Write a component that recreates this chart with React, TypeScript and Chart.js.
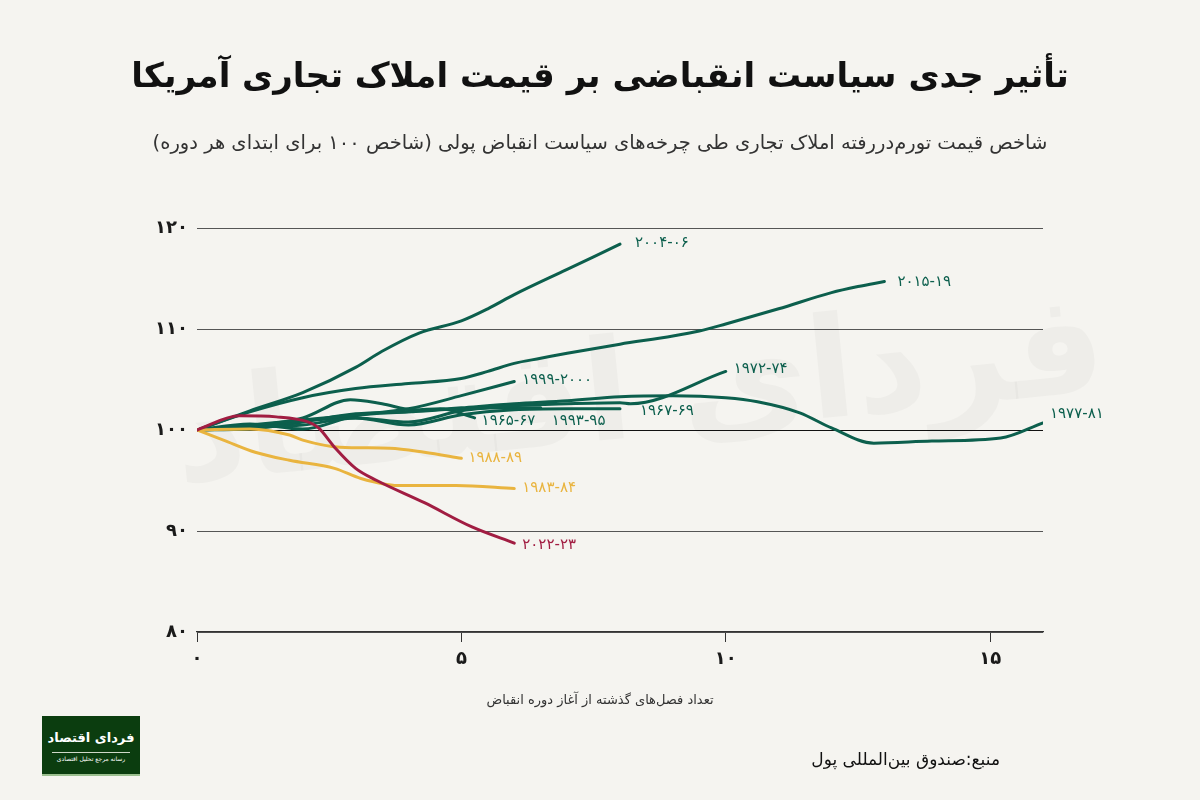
import React, { useEffect, useRef } from "react";
import { Chart, registerables } from "chart.js";

Chart.register(...registerables);

// ---- data ----
const seriesNames = ["۲۰۲۲-۲۳", "۱۹۸۸-۸۹", "۱۹۸۳-۸۴", "۲۰۰۴-۰۶", "۲۰۱۵-۱۹", "۱۹۹۹-۲۰۰۰", "۱۹۷۲-۷۴", "۱۹۶۷-۶۹", "۱۹۹۳-۹۵", "۱۹۶۵-۶۷", "۱۹۷۷-۸۱"];

const q2022 = [0, 0.8, 1.5, 2.1, 2.3, 2.6, 3, 3.4, 4.3, 5.2, 6];
const v2022 = [100, 101.4, 101.3, 100.8, 100.2, 98.3, 96.2, 95, 92.8, 90.4, 88.8];

const q1988 = [0, 1, 1.75, 2, 2.7, 3.65, 4.3, 5];
const v1988 = [100, 100.1, 99.5, 99, 98.3, 98.2, 97.8, 97.2];

const q1983 = [0, 0.5, 1.1, 1.75, 2.6, 3.1, 3.8, 4.9, 6];
const v1983 = [100, 99, 97.8, 97, 96.2, 95.2, 94.5, 94.5, 94.2];

const q2004 = [0, 1, 2, 3, 3.5, 4.2, 5, 5.5, 6, 7, 8];
const v2004 = [100, 101.9, 103.7, 106.2, 107.8, 109.6, 110.8, 112, 113.4, 115.9, 118.4];

const q2015 = [0, 1, 2, 3, 4, 5, 5.5, 6, 6.5, 7, 8, 9, 9.5, 10, 11, 12, 12.5, 13];
const v2015 = [100, 101.8, 103.2, 104.1, 104.6, 105.1, 105.8, 106.6, 107.1, 107.6, 108.5, 109.3, 109.8, 110.5, 112.0, 113.6, 114.2, 114.7];

const q1999 = [0, 1, 2, 3, 4, 5, 6];
const v1999 = [100, 100.5, 101, 101.5, 102.1, 103.4, 104.8];

const q1972 = [0, 1, 2, 3, 4, 5, 6, 7, 8, 8.2, 10];
const v1972 = [100, 100.3, 100.5, 101.2, 100.8, 101.9, 102.4, 102.6, 102.7, 102.6, 105.8];

const q1967 = [0, 1, 2, 3, 4, 5, 6, 7, 8];
const v1967 = [100, 100.2, 100.9, 101.2, 100.5, 101.5, 102, 102.1, 102.1];

const q1993 = [0, 1, 2, 3, 4, 5, 6, 6.5];
const v1993 = [100, 100.1, 100.8, 101.6, 101.8, 102.1, 102.2, 102.2];

const q1965 = [0, 1, 2, 2.9, 3.5, 4.1, 4.6, 5.25];
const v1965 = [100, 100.4, 101.2, 103, 102.6, 102, 102.1, 101.2];

const q1977 = [0, 1, 2, 3, 4, 5, 6, 7, 8, 9, 10, 10.6, 11.4, 12, 12.8, 13.9, 15.2, 16];
const v1977 = [100, 100.6, 100.1, 101.4, 101.8, 102.2, 102.6, 102.9, 103.3, 103.4, 103.2, 102.8, 101.7, 100.2, 98.7, 98.9, 99.2, 100.7];

const seriesQ = [q2022, q1988, q1983, q2004, q2015, q1999, q1972, q1967, q1993, q1965, q1977];
const seriesV = [v2022, v1988, v1983, v2004, v2015, v1999, v1972, v1967, v1993, v1965, v1977];

const yTicks = [80, 90, 100, 110, 120];
const xTicks = [0, 5, 10, 15];

// ---- styles ----
const GREEN = "#0c5f4d";
const YELLOW = "#e9b43f";
const RED = "#a11d42";
const seriesColors = [RED, YELLOW, YELLOW, GREEN, GREEN, GREEN, GREEN, GREEN, GREEN, GREEN, GREEN];
// label offsets from line end (px)
const labelOffsets: [number, number][] = [
  [8, 2], [7, 0], [8, 0], [15, -1], [13, 1], [8, -1], [8, -2], [20, 2], [11, 13], [7, 3], [7, -9],
];

const fa = (n: number | string) => String(n).replace(/\d/g, (d) => "۰۱۲۳۴۵۶۷۸۹"[Number(d)]);
const FONT = "'DejaVu Sans', sans-serif";
const BG = "#f5f4f0";

const endLabels = {
  id: "endLabels",
  afterDatasetsDraw(chart: any) {
    const ctx = chart.ctx;
    ctx.save();
    ctx.font = `15px ${FONT}`;
    ctx.textBaseline = "middle";
    ctx.textAlign = "left";
    ctx.direction = "ltr";
    chart.data.datasets.forEach((ds: any, i: number) => {
      const meta = chart.getDatasetMeta(i);
      const pt = meta.data[meta.data.length - 1];
      if (!pt) return;
      ctx.fillStyle = seriesColors[i];
      ctx.fillText(seriesNames[i], pt.x + labelOffsets[i][0], pt.y + labelOffsets[i][1]);
    });
    ctx.restore();
  },
};

const watermark = {
  id: "watermark",
  beforeDatasetsDraw(chart: any) {
    const ctx = chart.ctx;
    const a = chart.chartArea;
    ctx.save();
    ctx.fillStyle = "rgba(0,0,0,0.028)";
    ctx.font = `bold 140px ${FONT}`;
    ctx.textAlign = "center";
    ctx.textBaseline = "middle";
    ctx.direction = "rtl";
    ctx.translate((a.left + a.right) / 2 + 20, (a.top + a.bottom) / 2 - 30);
    ctx.rotate(-0.1);
    ctx.fillText("فردای اقتصاد", 0, 0);
    ctx.restore();
  },
};

export default function App() {
  const ref = useRef<HTMLCanvasElement | null>(null);
  useEffect(() => {
    if (!ref.current) return;
    const chart = new Chart(ref.current, {
      type: "line",
      data: {
        datasets: seriesNames.map((name, i) => ({
          label: name,
          data: seriesQ[i].map((q, j) => ({ x: q, y: seriesV[i][j] })),
          borderColor: seriesColors[i],
          borderWidth: 3,
          pointRadius: 0,
          fill: false,
          cubicInterpolationMode: "monotone" as const,
          borderCapStyle: "round" as const,
          borderJoinStyle: "round" as const,
        })),
      },
      options: {
        animation: false,
        responsive: false,
        maintainAspectRatio: false,
        layout: { padding: { left: 0, right: 157, top: 228, bottom: 118 } },
        plugins: { legend: { display: false }, tooltip: { enabled: false } },
        scales: {
          x: {
            type: "linear",
            min: 0,
            max: 16,
            afterBuildTicks: (s: any) => {
              s.ticks = xTicks.map((v) => ({ value: v }));
            },
            afterFit: (s: any) => {
              s.height = 50;
            },
            ticks: {
              includeBounds: false,
              callback: (v: any) => fa(v),
              color: "#1a1a1a",
              font: { family: FONT, size: 18, weight: "bold" },
              padding: 7,
            },
            grid: { drawOnChartArea: false, drawTicks: true, tickLength: 10, color: "#333", lineWidth: 1 },
            border: { display: true, color: "#333", width: 1.2 },
          },
          y: {
            type: "linear",
            min: 80,
            max: 120,
            afterBuildTicks: (s: any) => {
              s.ticks = yTicks.map((v) => ({ value: v }));
            },
            afterFit: (s: any) => {
              s.width = 197;
            },
            ticks: {
              callback: (v: any) => fa(v),
              color: "#1a1a1a",
              font: { family: FONT, size: 18, weight: "bold" },
              padding: 9,
            },
            grid: {
              drawTicks: false,
              color: (c: any) => (c.tick && c.tick.value === 100 ? "#111" : "#555"),
              lineWidth: 1,
            },
            border: { display: false },
          },
        },
      },
      plugins: [watermark, endLabels],
    });
    return () => chart.destroy();
  }, []);

  return (
    <div style={{ position: "fixed", left: 0, top: 0, width: 1200, height: 800, background: BG, fontFamily: FONT, overflow: "hidden" }}>
      <canvas ref={ref} width={1200} height={800} style={{ position: "absolute", left: 0, top: 0, width: 1200, height: 800 }} />
      <div dir="rtl" style={{ position: "absolute", left: 0, top: 50, width: 1200, textAlign: "center", fontSize: 34, fontWeight: "bold", color: "#111", lineHeight: "50px" }}>
        تأثیر جدی سیاست انقباضی بر قیمت املاک تجاری آمریکا
      </div>
      <div dir="rtl" style={{ position: "absolute", left: 0, top: 129, width: 1200, textAlign: "center", fontSize: 19.5, color: "#333", lineHeight: "28px" }}>
        شاخص قیمت تورم‌دررفته املاک تجاری طی چرخه‌های سیاست انقباض پولی (شاخص ۱۰۰ برای ابتدای هر دوره)
      </div>
      <div dir="rtl" style={{ position: "absolute", left: 0, top: 690, width: 1200, textAlign: "center", fontSize: 13, color: "#333", lineHeight: "20px" }}>
        تعداد فصل‌های گذشته از آغاز دوره انقباض
      </div>
      <div dir="rtl" style={{ position: "absolute", right: 200, top: 746, fontSize: 17, color: "#111", lineHeight: "26px" }}>
        منبع:صندوق بین‌المللی پول
      </div>
      <div style={{ position: "absolute", left: 42, top: 716, width: 98, height: 58, background: "#0b3d0f", borderBottom: "2px solid #9bbf8f", color: "#fff", display: "flex", flexDirection: "column", alignItems: "center", justifyContent: "center" }}>
        <div dir="rtl" style={{ fontSize: 13, fontWeight: "bold", lineHeight: "22px", whiteSpace: "nowrap" }}>فردای اقتصاد</div>
        <div style={{ width: 78, borderTop: "1px solid #cfd8c8", marginTop: 3 }} />
        <div dir="rtl" style={{ fontSize: 6, lineHeight: "9px", marginTop: 1, whiteSpace: "nowrap" }}>رسانه مرجع تحلیل اقتصادی</div>
      </div>
    </div>
  );
}
